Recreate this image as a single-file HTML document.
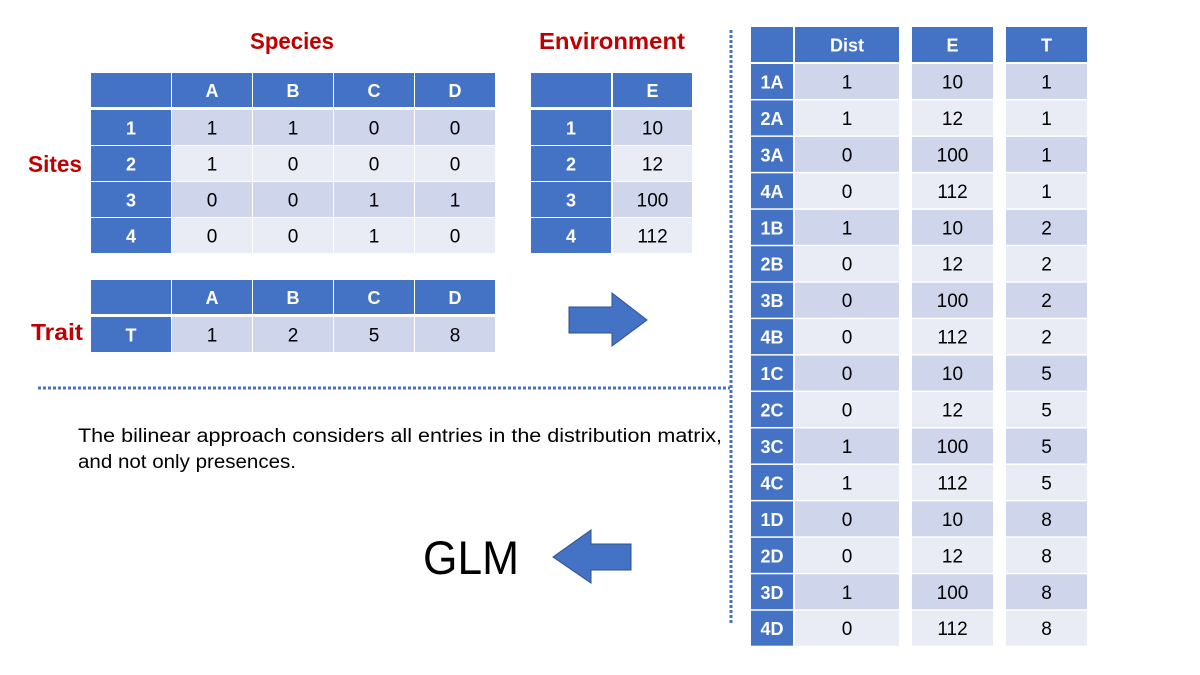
<!DOCTYPE html>
<html><head><meta charset="utf-8"><style>
html,body{margin:0;padding:0;background:#fff;width:1200px;height:675px;overflow:hidden}
svg{display:block;font-family:"Liberation Sans",sans-serif}
</style></head><body>
<svg id="s" width="1200" height="675" viewBox="0 0 1200 675" xmlns="http://www.w3.org/2000/svg">
<line x1="731" y1="30" x2="731" y2="625" stroke="#4472C4" stroke-width="3" stroke-dasharray="3,2"/>
<line x1="38" y1="388" x2="730" y2="388" stroke="#4472C4" stroke-width="3" stroke-dasharray="3,2"/>
<text x="250" y="49" font-size="23" font-weight="bold" fill="#C00000" textLength="84" lengthAdjust="spacingAndGlyphs">Species</text>
<text x="539" y="49" font-size="23" font-weight="bold" fill="#C00000" textLength="146" lengthAdjust="spacingAndGlyphs">Environment</text>
<text x="28" y="172" font-size="23" font-weight="bold" fill="#C00000" textLength="54" lengthAdjust="spacingAndGlyphs">Sites</text>
<text x="31" y="340" font-size="23" font-weight="bold" fill="#C00000" textLength="52" lengthAdjust="spacingAndGlyphs">Trait</text>
<text x="78" y="442" font-size="19" fill="#000" textLength="644" lengthAdjust="spacingAndGlyphs">The bilinear approach considers all entries in the distribution matrix,</text>
<text x="78" y="468" font-size="19" fill="#000" textLength="218" lengthAdjust="spacingAndGlyphs">and not only presences.</text>
<text x="423" y="574" font-size="47" fill="#000" textLength="96" lengthAdjust="spacingAndGlyphs">GLM</text>
<polygon points="569,307 612,307 612,293 647,320 612,346 612,333 569,333" fill="#4472C4" stroke="#2F528F" stroke-width="1"/>
<polygon points="631,544 591,544 591,530 553,557 591,583 591,570 631,570" fill="#4472C4" stroke="#2F528F" stroke-width="1"/>
<g id="tables"></g>
</svg>
<script>
const speciesCols=["A","B","C","D"];
const siteRows=["1","2","3","4"];
const distMatrix=[[1,1,0,0],[1,0,0,0],[0,0,1,1],[0,0,1,0]];
const envValues=[10,12,100,112];
const traitValues=[1,2,5,8];
const NS="http://www.w3.org/2000/svg";
const g=document.getElementById('tables');
const HDR="#4472C4",DARK="#CFD5EA",LIGHT="#E9EBF5";
function cell(x,y,w,h,fill,txt,bold,name){
  const r=document.createElementNS(NS,'rect');
  r.setAttribute('x',x);r.setAttribute('y',y);r.setAttribute('width',w);r.setAttribute('height',h);r.setAttribute('fill',fill);
  
  
  g.appendChild(r);
  if(txt!==""){
    const t=document.createElementNS(NS,'text');
    t.setAttribute('x',x+w/2);t.setAttribute('y',y+h/2+7);t.setAttribute('text-anchor','middle');
    if(bold){t.setAttribute('font-size','18');t.setAttribute('font-weight','bold');t.setAttribute('fill','#fff');}
    else{t.setAttribute('font-size','19');t.setAttribute('fill','#000');}
    t.textContent=txt;
    
    
    g.appendChild(t);
  }
}
const colX=[91,172,253,334,415], colW=80;
const rowY=[110,146,182,218], rowH=35;
cell(91,73,80,34,HDR,"",true,'species-header-corner');
speciesCols.forEach((c,i)=>cell(colX[i+1],73,colW,34,HDR,c,true,'species-header-'+c));
siteRows.forEach((s,r)=>{
  cell(91,rowY[r],80,rowH,HDR,s,true,'site-label-'+s);
  distMatrix[r].forEach((v,i)=>cell(colX[i+1],rowY[r],colW,rowH,r%2?LIGHT:DARK,String(v),false,'dist-'+s+speciesCols[i]));
});
cell(91,280,80,34,HDR,"",true,'trait-header-corner');
speciesCols.forEach((c,i)=>cell(colX[i+1],280,colW,34,HDR,c,true,'trait-header-'+c));
cell(91,317,80,35,HDR,"T",true,'trait-row-label');
traitValues.forEach((v,i)=>cell(colX[i+1],317,colW,35,DARK,String(v),false,'trait-'+speciesCols[i]));
cell(531,73,80,34,HDR,"",true,'env-header-corner');
cell(613,73,79,34,HDR,"E",true,'env-header-E');
siteRows.forEach((s,r)=>{
  cell(531,rowY[r],80,rowH,HDR,s,true,'env-site-'+s);
  cell(613,rowY[r],79,rowH,r%2?LIGHT:DARK,String(envValues[r]),false,'env-'+s);
});
const top0=64, rh=36.45;
cell(751,27,42,35,HDR,"",true,'long-header-corner');
cell(795,27,104,35,HDR,"Dist",true,'long-header-dist');
cell(912,27,81,35,HDR,"E",true,'long-header-e');
cell(1006,27,81,35,HDR,"T",true,'long-header-t');
let k=0;
speciesCols.forEach((c,ci)=>{
  siteRows.forEach((s,ri)=>{
    const y=top0+k*rh, h=rh-1.5, f=k%2?LIGHT:DARK;
    cell(751,y,42,h,HDR,s+c,true,'long-label-'+s+c);
    cell(795,y,104,h,f,String(distMatrix[ri][ci]),false,'long-dist-'+s+c);
    cell(912,y,81,h,f,String(envValues[ri]),false,'long-e-'+s+c);
    cell(1006,y,81,h,f,String(traitValues[ci]),false,'long-t-'+s+c);
    k++;
  });
});
</script>
</body></html>
